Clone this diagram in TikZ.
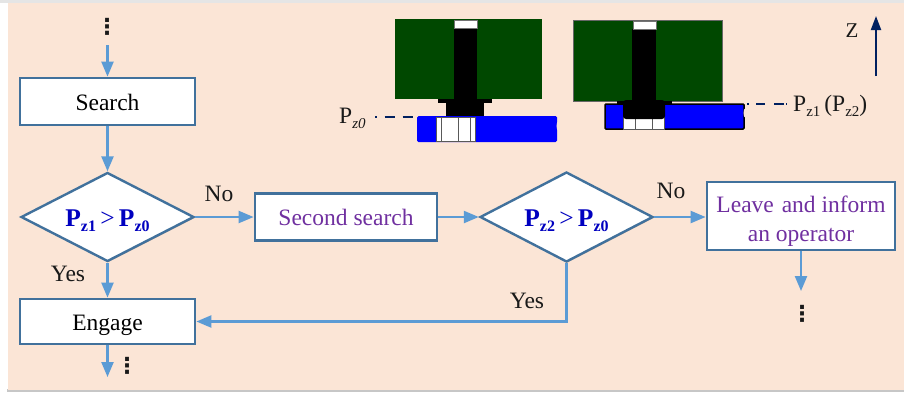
\documentclass[tikz,border=0pt]{standalone}
\usepackage{fontspec}
\setmainfont{Liberation Serif}
\newfontfamily\dotfont[BoldFont={DejaVu Sans Bold}]{DejaVu Sans}
\usetikzlibrary{shapes.geometric,arrows.meta,shadows,fadings}
\definecolor{peach}{HTML}{FBE5D6}
\definecolor{boxline}{HTML}{41719C}
\definecolor{arrowblue}{HTML}{5B9BD5}
\definecolor{purpletext}{HTML}{7030A0}
\definecolor{bluetext}{HTML}{0000C0}
\definecolor{navyline}{HTML}{002060}
\definecolor{plate}{HTML}{004800}
\definecolor{pure}{HTML}{0000FF}
\newcommand{\bigfont}{\fontsize{23.5}{29}\selectfont}
\newcommand{\dotstack}{{\dotfont\bfseries\fontsize{22}{22}\selectfont ⋮}}
\newcommand{\bsub}[1]{\raisebox{-5pt}{\fontsize{16}{16}\selectfont\bfseries #1}}
\newcommand{\isub}[1]{\raisebox{-5pt}{\fontsize{15}{15}\selectfont\itshape #1}}
\newcommand{\nsub}[1]{\raisebox{-5pt}{\fontsize{15}{15}\selectfont #1}}
\newcommand{\cond}[2]{{\fontsize{25.5}{30}\selectfont\rule{0pt}{24.5pt}\textbf{P}\bsub{#1}\,>\,\textbf{P}\bsub{#2}}}
\tikzset{
  softshadow/.style={drop shadow={shadow xshift=1pt,shadow yshift=-1pt,opacity=0.25,fill=black}},
  flowbox/.style={rectangle,draw=boxline,line width=2.8pt,fill=white,inner sep=0pt,softshadow,font=\bigfont,align=center},
  oneline/.style={text height=17pt,text depth=0pt},
  decision/.style={diamond,draw=boxline,line width=2.4pt,fill=white,inner sep=0pt,aspect=1.94,softshadow,font=\bigfont,text=bluetext},
  flowarrow/.style={draw=arrowblue,line width=2.3pt,-{Triangle[length=15pt,width=12pt]}},
  caption/.style={font=\bigfont,text=black!90,inner sep=0pt},
  dimline/.style={draw=navyline,line width=1.6pt},
  edge/.style={draw=black!55,line width=1pt},
}
\begin{document}
\begin{tikzpicture}[x=1pt,y=-1pt]
\useasboundingbox (0,0) rectangle (904,392);
\fill[white] (0,0) rectangle (904,392);
\fill[black!10] (0,0) rectangle (904,3);
\fill[black!22] (7,389) rectangle (904,392);
\fill[peach] (8,3) rectangle (904,390);

% left mechanism
\fill[plate] (395,19) rectangle (542,99);
\fill[black] (453.5,28) rectangle (477,100);
\draw[edge,fill=white] (454,20) rectangle (477,28);
\fill[black] (438,99) rectangle (492,102.5);
\fill[black] (446,102) rectangle (484,117);
\fill[pure,rounded corners=1.5pt] (417,116) rectangle (557,142);
\fill[peach] (558.5,126) ellipse (2pt and 5pt);
\draw[edge,fill=white,draw=black!65] (436,117) rectangle (475,141);
\draw[edge,draw=black!65] (441,117) -- (441,141) (458,117) -- (458,141) (470,117) -- (470,141);

% right mechanism
\fill[plate,draw=black!60,line width=.8pt] (573,20) rectangle (722,101);
\fill[black] (632,29) rectangle (656,102);
\draw[edge,fill=white] (633,21) rectangle (656,29);
\fill[pure,draw=black,line width=1.5pt,rounded corners=1pt] (605,104) rectangle (744,129);
\fill[peach] (745.5,113) ellipse (2pt and 5pt);
\fill[black] (617,101) rectangle (672,104.5);
\draw[edge,fill=white,draw=black!65] (623,117) rectangle (664,129);
\draw[edge,draw=black!65] (635,117) -- (635,129) (652,117) -- (652,129);
\fill[black,rounded corners=3pt] (623,100) -- (665,100) -- (665,119) -- (623,119) -- cycle;

% dimension marks
\coordinate (mark0a) at (375,117);
\coordinate (mark0b) at (413,117);
\coordinate (mark1a) at (747,104);
\coordinate (mark1b) at (787,104);
\draw[dimline,dash pattern=on 1.5pt off 8pt on 10pt off 8pt on 10pt] (mark0a) -- (mark0b);
\draw[dimline,dash pattern=on 2pt off 7pt on 9pt off 9pt on 10pt] (mark1a) -- (mark1b);
\node[caption,anchor=west] (pz0) at (339,118) {P\isub{z0}};
\node[caption,anchor=west] (pz1) at (793,106) {P\nsub{z1}\,(P\nsub{z2})};
\node[caption,font=\fontsize{21}{25}\selectfont] (zlabel) at (852,30.5) {Z};
\coordinate (zlow) at (876,76);
\coordinate (zhigh) at (876,16);
\draw[draw=navyline,line width=2pt,-{Triangle[length=14pt,width=10pt]}] (zlow) -- (zhigh);

% flowchart
\node[flowbox,oneline,minimum width=175pt,minimum height=47pt] (search) at (107.5,101.5) {Search};
\node[decision,minimum width=173pt,minimum height=89pt] (d1) at (107.5,217) {\cond{z1}{z0}};
\node[flowbox,oneline,minimum width=175pt,minimum height=45pt] (engage) at (107.5,321.5) {Engage};
\node[flowbox,oneline,minimum width=182pt,minimum height=47pt,text=purpletext] (second) at (346,217) {Second search};
\node[decision,minimum width=173pt,minimum height=90pt] (d2) at (566.5,217) {\cond{z2}{z0}};
\node[flowbox,minimum width=188pt,minimum height=68pt,text=purpletext] (leave) at (801,216) {\rule{0pt}{26pt}Leave\hspace{2pt} and inform\\an operator};

\coordinate (topin) at (107.5,45);
\coordinate (engageout) at (107.5,377);
\coordinate (leaveout) at (801,291);
\draw[flowarrow] (topin) -- (search.north);
\draw[flowarrow] (search.south) -- (d1.north);
\draw[flowarrow] (d1.south) -- (engage.north);
\draw[flowarrow] (engage.south) -- (engageout);
\draw[flowarrow] (d1.east) -- (d1.east -| second.west);
\draw[flowarrow] (second.east) -- (d2.west);
\draw[flowarrow] (d2.east) -- (d2.east -| leave.west);
\draw[flowarrow] (leave.south) -- (leaveout);
\draw[flowarrow] (d2.south) |- (engage.east);

\node[caption] (no1) at (219,194) {No};
\node[caption] (yes1) at (68,274) {Yes};
\node[caption] (no2) at (671,191) {No};
\node[caption] (yes2) at (527,301) {Yes};
\node[caption] (dots1) at (107,27) {\dotstack};
\node[caption] (dots2) at (127,366) {\dotstack};
\node[caption] (dots3) at (802,314) {\dotstack};
\end{tikzpicture}
\end{document}
